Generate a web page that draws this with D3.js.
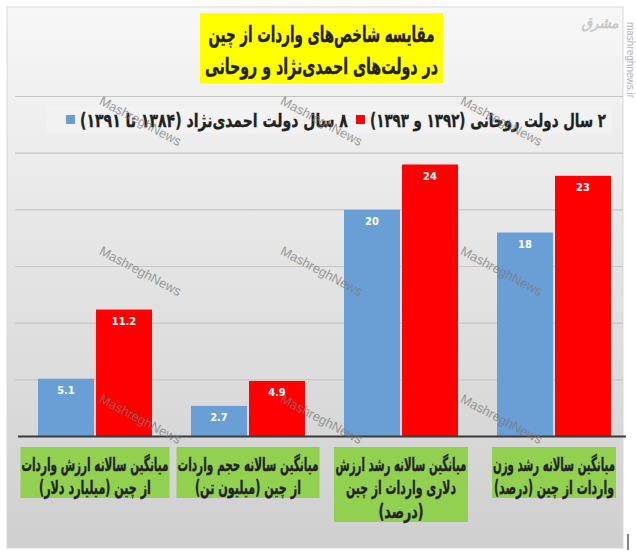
<!DOCTYPE html>
<html><head><meta charset="utf-8">
<script src="https://cdn.jsdelivr.net/npm/d3@7"></script>
<style>body{margin:0;background:#fff}svg{display:block}</style>
</head><body>
<svg id="chart" width="636" height="557"></svg>
<script>
// ---- data ----
const categories = ["importValue", "importVolume", "valueGrowth", "weightGrowth"];
const categoryLabels = [
  ["میانگین سالانه ارزش واردات", "از چین (میلیارد دلار)"],
  ["میانگین سالانه حجم واردات", "از چین (میلیون تن)"],
  ["میانگین سالانه رشد ارزش", "دلاری واردات از چین", "(درصد)"],
  ["میانگین سالانه رشد وزن", "واردات از چین (درصد)"]
];
const seriesKeys = ["ahmadinejad", "rouhani"];
const seriesNames = ["۸ سال دولت احمدی‌نژاد (۱۳۸۴ تا ۱۳۹۱)", "۲ سال دولت روحانی (۱۳۹۲ و ۱۳۹۳)"];
const ahmadinejad = [5.1, 2.7, 20, 18];
const rouhani = [11.2, 4.9, 24, 23];
const gridTicks = [5, 10, 15, 20, 25, 30];
const titleLines = ["مقایسه شاخص‌های واردات از چین", "در دولت‌های احمدی‌نژاد و روحانی"];
const watermark = "MashreghNews";

// ---- setup ----
const svg = d3.select("#chart");
const colors = {ahmadinejad: "#6a9fd6", rouhani: "#ff0000"};
const faFont = "'DejaVu Sans Condensed','DejaVu Sans',sans-serif";

// places a centred text at (cx, cy) and squeezes it horizontally to width w
function fitText(sel, cx, cy, w) {
  sel.each(function(d, i) {
    const node = this;
    const nat = node.getComputedTextLength();
    const X = typeof cx === "function" ? cx(d, i) : cx;
    const Y = typeof cy === "function" ? cy(d, i) : cy;
    const W = typeof w === "function" ? w(d, i) : w;
    d3.select(node).attr("x", 0).attr("y", 0)
      .attr("transform", `translate(${X},${Y}) scale(${W / nat},1)`);
  });
}

const defs = svg.append("defs");
const grad = defs.append("linearGradient").attr("id", "bg").attr("x1", 0).attr("y1", 0).attr("x2", 0).attr("y2", 1);
grad.append("stop").attr("offset", "0%").attr("stop-color", "#f7f7f7");
grad.append("stop").attr("offset", "55%").attr("stop-color", "#e1e1e1");
grad.append("stop").attr("offset", "100%").attr("stop-color", "#cfcfcf");

svg.append("rect").attr("x", 7).attr("y", 7).attr("width", 616).attr("height", 541)
  .attr("fill", "url(#bg)").attr("stroke", "#d8d8d8").attr("stroke-width", 1);

const plotLeft = 18.5, plotRight = 630.5;
const y = d3.scaleLinear().domain([0, 30]).range([436.5, 96.5]);
const x0 = d3.scaleBand().domain(categories).range([plotLeft, plotRight]).paddingInner(0.255).paddingOuter(0.1275);
const x1 = d3.scaleBand().domain(seriesKeys).range([0, x0.bandwidth()]).paddingInner(0.035);

// gridlines
svg.append("g").selectAll("line").data(gridTicks).join("line")
  .attr("x1", 15).attr("x2", 623)
  .attr("y1", d => y(d)).attr("y2", d => y(d))
  .attr("stroke", "#c6c6c6").attr("stroke-width", 1.2);

// title
svg.append("rect").attr("x", 200).attr("y", 13).attr("width", 243).attr("height", 70).attr("fill", "#ffff00");
const titleW = [226, 233];
svg.append("g").selectAll("text").data(titleLines).join("text")
  .attr("direction", "rtl").attr("text-anchor", "middle")
  .attr("font-family", faFont).attr("font-weight", "bold").attr("font-size", 22.5)
  .attr("fill", "#222").attr("stroke", "#222").attr("stroke-width", 0.35)
  .text(d => d)
  .call(fitText, 321.5, (d, i) => 41.5 + i * 32, (d, i) => titleW[i]);

// legend
svg.append("rect").attr("x", 47).attr("y", 106).attr("width", 565).attr("height", 27).attr("fill", "#f2f2f2").attr("opacity", 0.8);
const legendItems = [
  {key: "rouhani", name: seriesNames[1], right: 606, w: 236},
  {key: "ahmadinejad", name: seriesNames[0], right: 348, w: 268}
];
const lg = svg.append("g").selectAll("g").data(legendItems).join("g");
lg.append("rect").attr("x", d => d.right - d.w - 14).attr("y", 115).attr("width", 9).attr("height", 9)
  .attr("fill", d => colors[d.key]);
lg.append("text")
  .attr("direction", "rtl").attr("text-anchor", "middle")
  .attr("font-family", faFont).attr("font-weight", "bold").attr("font-size", 19).attr("fill", "#222")
  .attr("stroke", "#222").attr("stroke-width", 0.3)
  .text(d => d.name)
  .call(fitText, d => d.right - d.w / 2, 127, d => d.w);

// bars
const rows = categories.map((c, i) => ({cat: c, vals: [
  {key: "ahmadinejad", v: ahmadinejad[i]},
  {key: "rouhani", v: rouhani[i]}
]}));
const grp = svg.append("g").selectAll("g").data(rows).join("g")
  .attr("transform", d => `translate(${x0(d.cat)},0)`);
grp.selectAll("rect").data(d => d.vals).join("rect")
  .attr("x", d => x1(d.key)).attr("y", d => y(d.v))
  .attr("width", x1.bandwidth()).attr("height", d => y(0) - y(d.v))
  .attr("fill", d => colors[d.key]);
grp.selectAll("text").data(d => d.vals).join("text")
  .attr("x", d => x1(d.key) + x1.bandwidth() / 2).attr("y", d => y(d.v) + 15)
  .attr("text-anchor", "middle").attr("font-family", "'Liberation Sans Narrow','DejaVu Sans Condensed',sans-serif")
  .attr("font-weight", "bold").attr("font-size", 11).attr("fill", "#fff")
  .text(d => String(d.v));

// baseline
svg.append("line").attr("x1", 18).attr("x2", 626).attr("y1", y(0)).attr("y2", y(0))
  .attr("stroke", "#3a3a3a").attr("stroke-width", 2);

// category label boxes
const boxW = [149, 143, 134, 124];
const lineW = [[147, 112], [141, 106], [131, 110, 45], [122, 120]];
const cg = svg.append("g").selectAll("g").data(categories).join("g")
  .attr("transform", d => `translate(${x0(d) + x0.bandwidth() / 2},0)`);
cg.append("rect")
  .attr("x", (d, i) => -boxW[i] / 2).attr("y", 447)
  .attr("width", (d, i) => boxW[i])
  .attr("height", (d, i) => categoryLabels[i].length * 24 + 3)
  .attr("fill", "#92d050");
cg.each(function(d, i) {
  d3.select(this).selectAll("text").data(categoryLabels[i]).join("text")
    .attr("direction", "rtl").attr("text-anchor", "middle")
    .attr("font-family", faFont).attr("font-weight", "bold").attr("font-size", 19).attr("fill", "#222")
    .attr("stroke", "#222").attr("stroke-width", 0.3)
    .text(t => t)
    .call(fitText, 0, (t, j) => 470.5 + j * 23.5, (t, j) => lineW[i][j]);
});

// watermarks
const wmX = [140, 321, 501], wmY = [122, 272, 420];
const wm = [];
wmY.forEach(yy => wmX.forEach(xx => wm.push([xx, yy])));
svg.append("g").selectAll("text").data(wm).join("text")
  .attr("transform", d => `translate(${d[0]},${d[1]}) rotate(28)`)
  .attr("text-anchor", "middle").attr("dominant-baseline", "middle")
  .attr("font-family", "'Liberation Sans',Arial,sans-serif").attr("font-size", 13)
  .attr("fill", "#7a7a7a").attr("opacity", 0.7)
  .text(watermark);

// side url + logo
svg.append("text").attr("transform", "translate(627,60) rotate(90)")
  .attr("text-anchor", "middle").attr("font-family", "'Liberation Sans',Arial,sans-serif").attr("font-size", 10)
  .attr("fill", "#b0b0b0").text("mashreghnews.ir");
svg.append("text").attr("x", 600).attr("y", 28).attr("text-anchor", "middle").attr("direction", "rtl")
  .attr("font-family", faFont).attr("font-size", 15).attr("font-weight", "bold").attr("font-style", "italic").attr("fill", "#c8c8c8").text("مشرق");
svg.append("line").attr("x1", 628).attr("x2", 628).attr("y1", 534).attr("y2", 550).attr("stroke", "#333").attr("stroke-width", 1.2);
</script>
</body></html>
